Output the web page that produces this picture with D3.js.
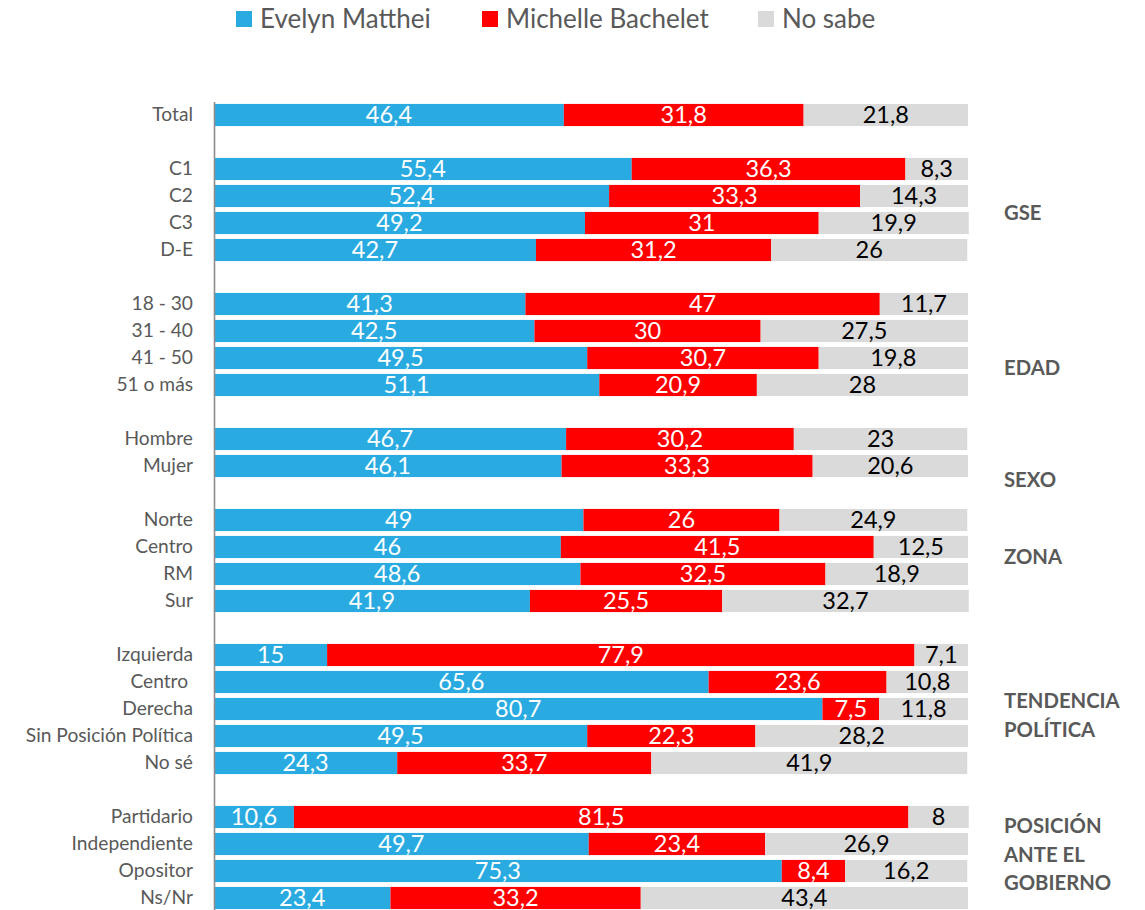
<!DOCTYPE html>
<html>
<head>
<meta charset="utf-8">
<script src="https://cdn.jsdelivr.net/npm/d3@7/dist/d3.min.js"></script>
<style>
  html, body { margin: 0; padding: 0; background: #fff; }
  svg { display: block; font-family: Lato, "Open Sans", sans-serif; }
</style>
</head>
<body>
<svg id="chart" width="1145" height="910"></svg>
<script>
// Row labels, in drawing order
const categories = ["Total",
  "C1", "C2", "C3", "D-E",
  "18 - 30", "31 - 40", "41 - 50", "51 o más",
  "Hombre", "Mujer",
  "Norte", "Centro", "RM", "Sur",
  "Izquierda", "Centro ", "Derecha", "Sin Posición Política", "No sé",
  "Partidario", "Independiente", "Opositor", "Ns/Nr"];

// Block each row belongs to (a blank row separates blocks)
const blockOf = [0, 1,1,1,1, 2,2,2,2, 3,3, 4,4,4,4, 5,5,5,5,5, 6,6,6,6];

const seriesNames = ["Evelyn Matthei", "Michelle Bachelet", "No sabe"];
const matthei  = [46.4, 55.4, 52.4, 49.2, 42.7, 41.3, 42.5, 49.5, 51.1, 46.7, 46.1, 49, 46, 48.6, 41.9, 15, 65.6, 80.7, 49.5, 24.3, 10.6, 49.7, 75.3, 23.4];
const bachelet = [31.8, 36.3, 33.3, 31, 31.2, 47, 30, 30.7, 20.9, 30.2, 33.3, 26, 41.5, 32.5, 25.5, 77.9, 23.6, 7.5, 22.3, 33.7, 81.5, 23.4, 8.4, 33.2];
const noSabe   = [21.8, 8.3, 14.3, 19.9, 26, 11.7, 27.5, 19.8, 28, 23, 20.6, 24.9, 12.5, 18.9, 32.7, 7.1, 10.8, 11.8, 28.2, 41.9, 8, 26.9, 16.2, 43.4];

const groupTitles = [["GSE"], ["EDAD"], ["SEXO"], ["ZONA"], ["TENDENCIA", "POLÍTICA"], ["POSICIÓN", "ANTE EL", "GOBIERNO"]];

const colors = ["#29abe2", "#ff0000", "#dadada"];
const labelColors = ["#ffffff", "#ffffff", "#000000"];
const textGray = "#595959";

// Build slot list: each row gets a slot, blank slots between blocks
const slots = [];
const rowKey = i => "r" + i;
categories.forEach((c, i) => {
  if (i > 0 && blockOf[i] !== blockOf[i - 1]) slots.push("gap" + i);
  slots.push(rowKey(i));
});

const rows = categories.map((c, i) => ({ key: rowKey(i), label: c, values: [matthei[i], bachelet[i], noSabe[i]] }));

const svg = d3.select("#chart");

const x = d3.scaleLinear().domain([0, 100]).range([214, 968]);
const y = d3.scaleBand().domain(slots).range([101.5, 911.5]).paddingInner(0.18).paddingOuter(0.09);

const stack = d3.stack().keys([0, 1, 2]).value((d, k) => d.values[k]);
const layers = stack(rows);

const fmt = v => String(v).replace(".", ",");

// Bars
layers.forEach((layer, k) => {
  const g = svg.append("g").attr("fill", colors[k]);
  g.selectAll("rect").data(layer).join("rect")
    .attr("x", d => x(d[0]))
    .attr("y", d => y(d.data.key))
    .attr("width", d => x(d[1]) - x(d[0]))
    .attr("height", y.bandwidth());
});

// Value labels centred in each segment
layers.forEach((layer, k) => {
  svg.append("g")
    .attr("fill", labelColors[k])
    .attr("font-size", 23.5)
    .attr("text-anchor", "middle")
    .selectAll("text").data(layer).join("text")
    .attr("x", d => (x(d[0]) + x(d[1])) / 2)
    .attr("y", d => y(d.data.key) + y.bandwidth() / 2)
    .attr("dy", "0.36em")
    .text(d => fmt(d.data.values[k]));
});

// Category axis
const yAxis = d3.axisLeft(y)
  .tickSize(0)
  .tickPadding(21)
  .tickFormat(s => { const r = rows.find(r => r.key === s); return r ? r.label : ""; });

const axisG = svg.append("g").attr("transform", `translate(${x(0)},0)`).call(yAxis);
axisG.select(".domain").attr("stroke", "#8c8c8c").attr("stroke-width", 1.6);
axisG.selectAll(".tick text")
  .attr("fill", textGray)
  .attr("font-size", 19.2)
  .attr("font-family", "Lato, 'Open Sans', sans-serif")
  .style("white-space", "pre");

// Block titles at the right
const titleAnchors = [
  { row: 2, dy: 17 },
  { row: 7, dy: 10 },
  { row: 10, dy: 14 },
  { row: 12, dy: 10 },
  { row: 17, dy: -8 },
  { row: 21, dy: -18 }
];
const titleLine = 28.5;
groupTitles.forEach((lines, gi) => {
  const a = titleAnchors[gi];
  const cy = y(rowKey(a.row)) + y.bandwidth() / 2 + a.dy;
  const t = svg.append("text")
    .attr("x", 1004)
    .attr("y", cy)
    .attr("fill", textGray)
    .attr("font-size", 20.3)
    .attr("font-weight", "bold");
  lines.forEach((ln, li) => {
    t.append("tspan").attr("x", 1004).attr("dy", li === 0 ? "0.36em" : titleLine).text(ln);
  });
});

// Legend
const legendX = [236, 482, 758];
const legend = svg.append("g");
seriesNames.forEach((name, k) => {
  legend.append("rect")
    .attr("x", legendX[k]).attr("y", 11)
    .attr("width", 16).attr("height", 16)
    .attr("fill", colors[k]);
  legend.append("text")
    .attr("x", legendX[k] + 24).attr("y", 27.5)
    .attr("fill", textGray)
    .attr("font-size", 26)
    .text(name);
});
</script>
</body>
</html>
